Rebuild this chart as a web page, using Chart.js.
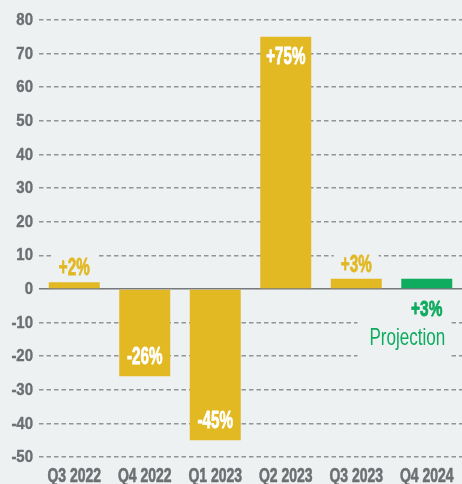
<!DOCTYPE html>
<html>
<head>
<meta charset="utf-8">
<script src="https://cdn.jsdelivr.net/npm/chart.js@4"></script>
<style>
  html, body { margin: 0; padding: 0; background: #edf1f2; }
  #wrap { width: 462px; height: 484px; }
  canvas { display: block; }
</style>
</head>
<body>
<div id="wrap"><canvas id="chart" width="462" height="484"></canvas></div>
<script>
// Quarter-over-quarter change, in percent
const quarters = ['Q3 2022', 'Q4 2022', 'Q1 2023', 'Q2 2023', 'Q3 2023', 'Q4 2024'];
const changePct = [2, -26, -45, 75, 3, 3];
const isProjection = [false, false, false, false, false, true];
const yTickValues = [-50, -40, -30, -20, -10, 0, 10, 20, 30, 40, 50, 60, 70, 80];
const projectionNote = 'Projection';

const BG = '#edf1f2';
const GOLD = '#e2b823';
const GREEN = '#0fab5f';
const INK = '#6d6f72';
const FAMILY = '"Liberation Sans", Arial, sans-serif';

// condensed lettering: font, horizontal squeeze, extra stroke weight
const Y_TICK = { font: 'bold 17px ' + FAMILY, sx: 0.88, weight: 0.4 };
const X_TICK = { font: 'bold 20px ' + FAMILY, sx: 0.7, weight: 0.6 };
const VALUE = { font: 'bold 23px ' + FAMILY, sx: 0.66, cap: 16.5, weight: 0.8 };
const PROJ_VALUE = { font: 'bold 22px ' + FAMILY, sx: 0.7, cap: 15.8, weight: 0.8 };
const NOTE = { font: '24px ' + FAMILY, sx: 0.71, weight: 0 };

function pctText(v) {
  return (v > 0 ? '+' : '') + v + '%';
}

function textWidth(ctx, text, style) {
  ctx.save();
  ctx.font = style.font;
  const w = ctx.measureText(text).width * style.sx;
  ctx.restore();
  return w;
}

function drawCondensed(ctx, text, x, y, style, align, baseline) {
  ctx.save();
  ctx.font = style.font;
  ctx.translate(x, y);
  ctx.scale(style.sx, 1);
  ctx.textAlign = align;
  ctx.textBaseline = baseline || 'alphabetic';
  ctx.fillText(text, 0, 0);
  if (style.weight) {
    ctx.strokeStyle = ctx.fillStyle;
    ctx.lineWidth = style.weight;
    ctx.lineJoin = 'round';
    ctx.strokeText(text, 0, 0);
  }
  ctx.restore();
}

// Where each value label goes and whether it needs a backing box
function labelLayout(chart) {
  const ctx = chart.ctx;
  const meta = chart.getDatasetMeta(0);
  const out = [];
  meta.data.forEach((bar, i) => {
    const v = changePct[i];
    const text = pctText(v);
    if (isProjection[i]) {
      const w = textWidth(ctx, text, PROJ_VALUE);
      const baseline = bar.base + 28;
      const nw = textWidth(ctx, projectionNote, NOTE);
      const noteRight = bar.x + bar.width / 2 - 7;
      const noteBase = bar.base + 56.5;
      out.push({
        text, x: bar.x, baseline, color: GREEN, style: PROJ_VALUE,
        note: { text: projectionNote, right: noteRight, baseline: noteBase },
        box: {
          left: Math.min(bar.x - w / 2, noteRight - nw) - 12,
          right: Math.max(bar.x + w / 2, noteRight) + 6,
          top: baseline - PROJ_VALUE.cap - 6,
          bottom: noteBase + 14
        }
      });
    } else if (Math.abs(v) >= 10) {
      const baseline = v > 0 ? bar.y + 11 + VALUE.cap : bar.y - 12;
      out.push({ text, x: bar.x, baseline, color: '#ffffff', style: VALUE });
    } else {
      const w = textWidth(ctx, text, VALUE);
      const baseline = bar.y - 7;
      out.push({
        text, x: bar.x, baseline, color: GOLD, style: VALUE,
        box: { left: bar.x - w / 2 - 7, right: bar.x + w / 2 + 7, top: baseline - VALUE.cap - 6, bottom: baseline + 3 }
      });
    }
  });
  return out;
}

const backdrop = {
  id: 'backdrop',
  beforeDraw(chart) {
    const ctx = chart.ctx;
    ctx.save();
    ctx.fillStyle = BG;
    ctx.fillRect(0, 0, chart.width, chart.height);
    ctx.restore();
  }
};

// Axis lettering in the condensed face, placed by the chart's own scales
const axisLabels = {
  id: 'axisLabels',
  afterDraw(chart) {
    const ctx = chart.ctx;
    const xs = chart.scales.x;
    const ys = chart.scales.y;
    ctx.save();
    ctx.fillStyle = INK;
    ys.ticks.forEach((t, i) => {
      drawCondensed(ctx, String(t.value), ys.right - 6, ys.getPixelForTick(i) + 0.5, Y_TICK, 'right', 'middle');
    });
    xs.ticks.forEach((t, i) => {
      drawCondensed(ctx, quarters[t.value], xs.getPixelForTick(i), chart.chartArea.bottom + 24.5, X_TICK, 'center');
    });
    ctx.restore();
  }
};

const valueLabels = {
  id: 'valueLabels',
  beforeDatasetsDraw(chart) {
    // clear the grid behind labels that sit outside the bars
    const ctx = chart.ctx;
    ctx.save();
    ctx.fillStyle = BG;
    labelLayout(chart).forEach(l => {
      if (l.box) ctx.fillRect(l.box.left, l.box.top, l.box.right - l.box.left, l.box.bottom - l.box.top);
    });
    ctx.restore();
  },
  afterDatasetsDraw(chart) {
    const ctx = chart.ctx;
    labelLayout(chart).forEach(l => {
      ctx.save();
      ctx.fillStyle = l.color;
      drawCondensed(ctx, l.text, l.x, l.baseline, l.style, 'center');
      if (l.note) drawCondensed(ctx, l.note.text, l.note.right, l.note.baseline, NOTE, 'right');
      ctx.restore();
    });
  }
};

new Chart(document.getElementById('chart'), {
  type: 'bar',
  data: {
    labels: quarters,
    datasets: [{
      data: changePct,
      backgroundColor: isProjection.map(p => p ? GREEN : GOLD),
      borderWidth: 0,
      barPercentage: 0.723,
      categoryPercentage: 1
    }]
  },
  options: {
    responsive: false,
    animation: false,
    devicePixelRatio: 1,
    layout: { padding: { top: 20, right: 0, bottom: 0, left: 0 } },
    plugins: { legend: { display: false }, tooltip: { enabled: false } },
    scales: {
      x: {
        grid: { display: false },
        border: { display: false },
        ticks: { display: false, autoSkip: false },
        afterFit(scale) { scale.height = 27; }
      },
      y: {
        min: -50,
        max: 80,
        afterBuildTicks(scale) {
          scale.ticks = yTickValues.map(v => ({ value: v }));
        },
        afterFit(scale) { scale.width = 39; },
        grid: {
          drawTicks: false,
          color: c => (c.tick && c.tick.value === 0) ? '#77797c' : '#929497',
          lineWidth: 1.5
        },
        border: {
          display: false,
          dash: c => (c.tick && c.tick.value === 0) ? [] : [4.5, 3]
        },
        ticks: { display: false }
      }
    }
  },
  plugins: [backdrop, axisLabels, valueLabels]
});
</script>
</body>
</html>
